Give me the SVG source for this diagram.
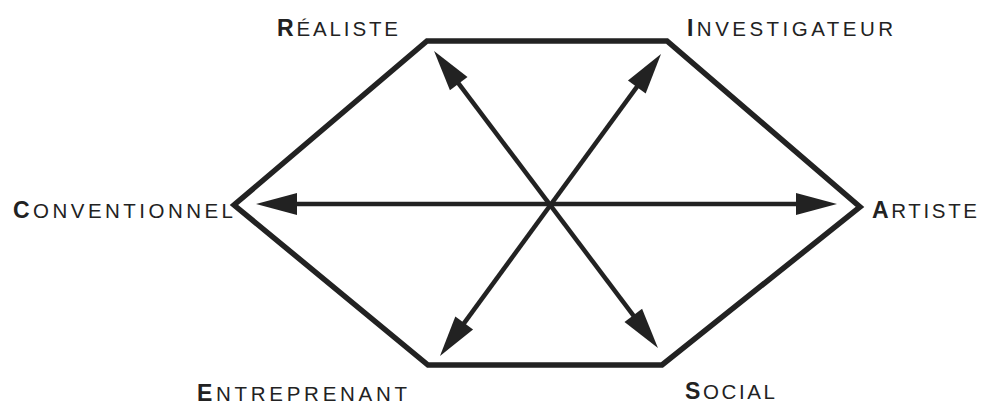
<svg xmlns="http://www.w3.org/2000/svg" width="992" height="411" viewBox="0 0 992 411">
<style>
.hex{fill:none;stroke:#222;stroke-width:5.5;stroke-linejoin:miter}
.arr{stroke:#222;stroke-width:4.5;fill:none;marker-start:url(#head);marker-end:url(#head)}
.lbl{font-family:"Liberation Sans",Arial,Helvetica,sans-serif;font-size:20.5px;fill:#222}
.ini{font-weight:bold;font-size:23px}
</style>
<defs>
<marker id="head" markerUnits="userSpaceOnUse" viewBox="-14 -13 46 26" markerWidth="46" markerHeight="26" refX="0" refY="0" orient="auto-start-reverse">
<path d="M30,0 L-11,-11 L-11,11 Z" fill="#222"/>
</marker>
</defs>
<g id="hexagon">
<polygon class="hex" points="427,41 667,41 860,207 662,365 428,365 234,205"/>
</g>
<g id="connectors">
<line class="arr" x1="286" y1="204" x2="807" y2="204"/>
<line class="arr" x1="452.1" y1="74.9" x2="639.9" y2="324.1"/>
<line class="arr" x1="643.3" y1="78.2" x2="457.7" y2="331.8"/>
</g>
<g id="realiste"><text class="lbl" x="277" y="36" textLength="121" lengthAdjust="spacing"><tspan class="ini">R</tspan>ÉALISTE</text></g>
<g id="investigateur"><text class="lbl" x="687" y="36" textLength="206" lengthAdjust="spacing"><tspan class="ini">I</tspan>NVESTIGATEUR</text></g>
<g id="conventionnel"><text class="lbl" x="13" y="218" textLength="220" lengthAdjust="spacing"><tspan class="ini">C</tspan>ONVENTIONNEL</text></g>
<g id="artiste"><text class="lbl" x="872" y="218" textLength="105" lengthAdjust="spacing"><tspan class="ini">A</tspan>RTISTE</text></g>
<g id="entreprenant"><text class="lbl" x="197" y="401" textLength="210" lengthAdjust="spacing"><tspan class="ini">E</tspan>NTREPRENANT</text></g>
<g id="social"><text class="lbl" x="685" y="399" textLength="90" lengthAdjust="spacing"><tspan class="ini">S</tspan>OCIAL</text></g>
</svg>
